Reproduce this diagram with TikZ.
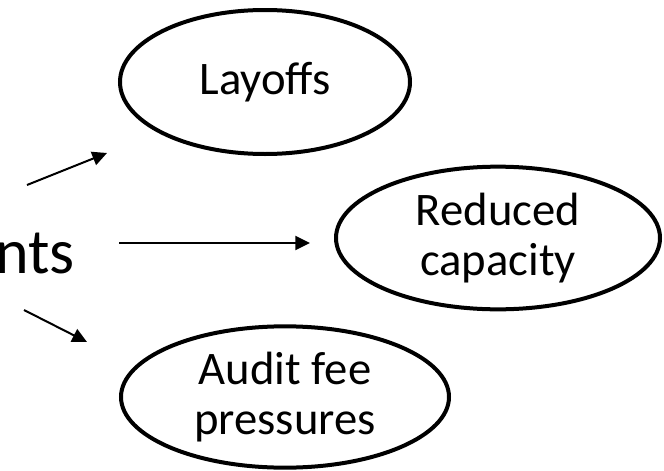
\documentclass[tikz,border=0pt]{standalone}
\usepackage{fontspec}
\setmainfont{Carlito}
\usetikzlibrary{shapes, arrows.meta}

\begin{document}
\begin{tikzpicture}[x=0.75pt,y=-0.75pt,
    bubble/.style={ellipse, draw, line width=3pt, inner sep=0pt, align=center,
        font=\fontsize{35}{37.5}\selectfont},
    link/.style={line width=1.5pt, -{Triangle[length=11pt,width=10.5pt]}}]
        \useasboundingbox (0,0) rectangle (664,471);
        \node[anchor=base west, inner sep=0pt, font=\fontsize{48}{56}\selectfont] (nts) at (-5,273) {nts};
        \node[bubble, minimum width=217.5pt, minimum height=108pt] (layoffs) at (265,82) {Layoffs};
        \node[bubble, minimum width=243pt, minimum height=107pt] (capacity) at (498,238) {Reduced\\capacity};
        \node[bubble, minimum width=246pt, minimum height=106pt] (fees) at (285,397) {Audit fee\\pressures};
        \coordinate (up1) at (27,185);
        \coordinate (up2) at (107,153);
        \coordinate (mid1) at (119,243);
        \coordinate (mid2) at (310,243);
        \coordinate (low1) at (24,310);
        \coordinate (low2) at (87,342);
        \draw[link] (up1) -- (up2);
        \draw[link] (mid1) -- (mid2);
        \draw[link] (low1) -- (low2);
    \end{tikzpicture}
\end{document}
